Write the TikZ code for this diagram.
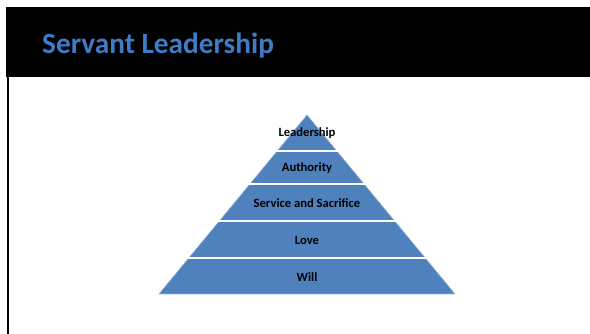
\documentclass[tikz,border=0pt]{standalone}
\usepackage{fontspec}
\setmainfont{Carlito}
\usetikzlibrary{calc}
\definecolor{pyrblue}{RGB}{79,129,189}
\definecolor{pyredge}{RGB}{150,180,215}
\definecolor{titleblue}{RGB}{62,124,200}
\tikzset{
  layerlabel/.style={font=\bfseries\fontsize{12.6}{14}\selectfont, text=black, inner sep=0pt, anchor=center},
  gap/.style={white, line width=2pt}
}
\begin{document}
\begin{tikzpicture}[x=1pt,y=-1pt]
\useasboundingbox (0,0) rectangle (590,334);
\fill[white] (0,0) rectangle (590,334);
% header
\fill[black] (6,7) rectangle (590,77);
\node[anchor=base west, inner sep=0pt, text=titleblue, font=\bfseries\fontsize{29.3}{32}\selectfont] (title) at (42,54) {Servant Leadership};
% left border line
\draw[black, line width=2pt] (7.5,77) -- (7.5,334);
% pyramid
\coordinate (apex) at (307,115);
\coordinate (bl) at (159,294);
\coordinate (br) at (455,294);
\fill[pyrblue, draw=pyredge, line width=0.6pt] (apex) -- (br) -- (bl) -- cycle;
\foreach \y in {151.5,184.5,221.5,258.5}{
  \pgfmathsetmacro{\hw}{0.8268*(\y-115)+1}
  \draw[gap] ({307-\hw},\y) -- ({307+\hw},\y);
}
\node[layerlabel] (l1) at (307,133) {Leadership};
\node[layerlabel] (l2) at (307,168) {Authority};
\node[layerlabel] (l3) at (307,203) {Service and Sacrifice};
\node[layerlabel] (l4) at (307,240) {Love};
\node[layerlabel] (l5) at (307,277) {Will};
\end{tikzpicture}
\end{document}
